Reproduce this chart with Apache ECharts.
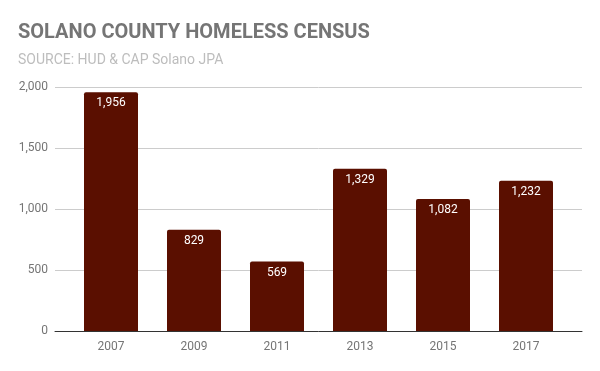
<!DOCTYPE html>
<html><head><meta charset="utf-8">
<script src="https://cdn.jsdelivr.net/npm/echarts@6/dist/echarts.min.js"></script>
<style>html,body{margin:0;padding:0;background:#fff}#c{width:600px;height:371px}</style>
</head><body><div id="c"></div>
<script>
const categories = ['2007','2009','2011','2013','2015','2017'];
const homeless = [1956, 829, 569, 1329, 1082, 1232];
const yTicks = [0, 500, 1000, 1500, 2000];

const fmt = v => v.toLocaleString('en-US');
const chart = echarts.init(document.getElementById('c'));
chart.setOption({
  animation: false,
  backgroundColor: '#fff',
  textStyle: { fontFamily: 'Roboto' },
  title: {
    text: 'SOLANO COUNTY HOMELESS CENSUS',
    subtext: 'SOURCE: HUD & CAP Solano JPA',
    left: 13, top: 18,
    itemGap: 10,
    textStyle: { fontFamily: 'Roboto', fontWeight: 'bold', fontSize: 20, color: '#757575' },
    subtextStyle: { fontFamily: 'Roboto', fontSize: 14, color: '#bdbdbd' }
  },
  grid: [
    { left: 55, right: 18, top: 87, bottom: 40 },
    { left: 69.5, right: 32.5, top: 87, bottom: 40 }
  ],
  xAxis: [
    { type: 'value', gridIndex: 0, min: 0, max: 1, show: true,
      axisLine: { show: true, onZero: false, lineStyle: { color: '#333', width: 1 } },
      axisTick: { show: false }, axisLabel: { show: false }, splitLine: { show: false } },
    { type: 'category', gridIndex: 1, data: categories,
      axisLine: { show: false }, axisTick: { show: false },
      axisLabel: { color: '#757575', fontSize: 12, margin: 10, fontFamily: 'Roboto' } }
  ],
  yAxis: [
    { type: 'value', gridIndex: 0, min: yTicks[0], max: yTicks[yTicks.length - 1], interval: 500,
      axisLine: { show: false }, axisTick: { show: false },
      axisLabel: { color: '#757575', fontSize: 12, margin: 7, formatter: fmt, fontFamily: 'Roboto' },
      splitLine: { lineStyle: { color: '#cccccc', width: 1 } } },
    { type: 'value', gridIndex: 1, min: yTicks[0], max: yTicks[yTicks.length - 1], interval: 500,
      show: false, splitLine: { show: false } }
  ],
  series: [{
    type: 'bar', xAxisIndex: 1, yAxisIndex: 1,
    data: homeless,
    barWidth: 54,
    itemStyle: { color: '#5a0f00', borderRadius: [2, 2, 0, 0] },
    label: { show: true, position: 'insideTop', distance: 5, color: '#ffffff', fontSize: 12,
      fontFamily: 'Roboto', formatter: p => fmt(p.value) }
  }]
});
</script></body></html>
